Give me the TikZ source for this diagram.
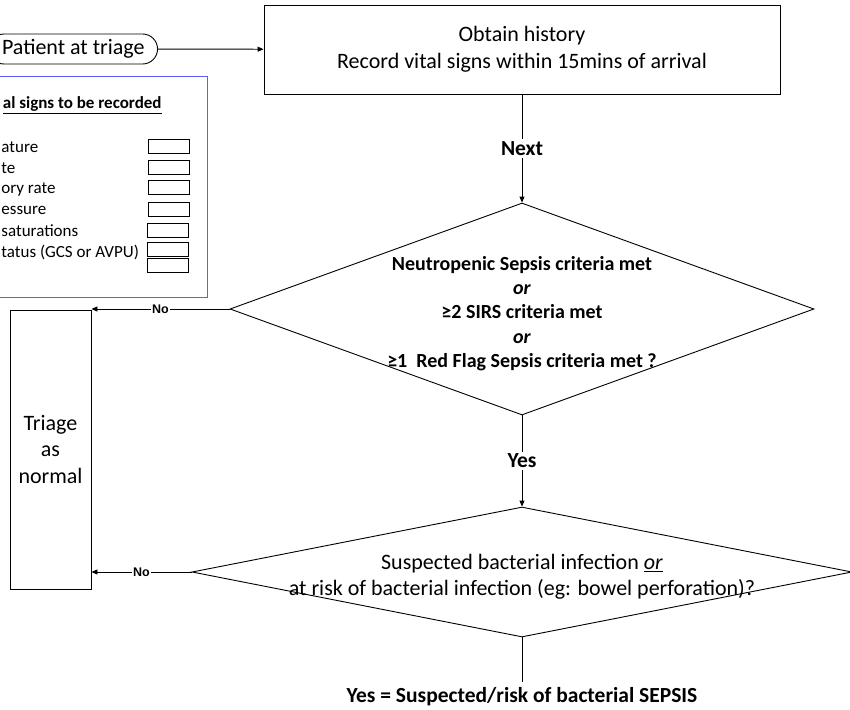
\documentclass[tikz,border=0pt]{standalone}
\usepackage{fontspec}
\setmainfont{Carlito}
\newfontfamily\arialfont{Liberation Sans}
\usetikzlibrary{arrows.meta, shapes.geometric, calc}
\definecolor{frameblue}{RGB}{95,95,245}

\begin{document}
\begin{tikzpicture}[
    x=1pt, y=-1pt,
    >={Triangle[length=6pt,width=5pt]},
    line width=0.9pt,
    process/.style  = {rectangle, draw=black, align=center, inner sep=0pt,
                       font=\fontsize{22}{26.5}\selectfont},
    decision/.style = {diamond, draw=black, inner sep=0pt},
    dtext/.style    = {align=center, inner sep=0pt},
    terminal/.style = {rectangle, rounded corners=15pt, draw=black,
                       minimum height=30pt, inner xsep=13pt, inner ysep=0pt,
                       font=\fontsize{22}{26}\selectfont},
    item/.style     = {anchor=west, inner sep=0pt,
                       font=\fontsize{17}{20}\selectfont},
    tickbox/.style  = {rectangle, draw=black, line width=0.8pt,
                       minimum width=41pt, minimum height=14pt, inner sep=0pt},
    lbl/.style      = {fill=white, inner sep=2pt,
                       font=\fontsize{21.5}{24}\selectfont\bfseries},
    nolbl/.style    = {fill=white, inner xsep=1pt, inner ysep=1pt,
                       font=\fontsize{12.5}{14}\selectfont\arialfont\bfseries},
]
\useasboundingbox (0,0) rectangle (850,709);
\clip (0,0) rectangle (850,709);

\node[terminal, anchor=east] (patient) at (158,49) {Patient at triage};

\node[process, minimum width=516pt, minimum height=89pt] (history) at (522,49.5)
    {Obtain history\\Record vital signs within 15mins of arrival};

% vital signs panel (runs off the left edge)
\node[rectangle, draw=frameblue, line width=0.9pt, minimum width=287pt,
      minimum height=221pt] (vitals) at (63.5,186.5) {};
\node[anchor=east, inner sep=0pt, font=\fontsize{17}{20}\selectfont\bfseries]
    (vtitle) at (162,105) {\underline{al signs to be recorded}};

\node[item] (temp) at (1,147) {ature};
\node[item] (hr)   at (1,168) {te};
\node[item] (rr)   at (1,189) {ory rate};
\node[item] (bp)   at (1,210) {essure};
\node[item] (sat)  at (1,231) {saturations};
\node[item] (gcs)  at (1,252) {tatus (GCS or AVPU)};

\node[tickbox] (boxA) at (168.5,146) {};
\node[tickbox] (boxB) at (168.5,167) {};
\node[tickbox] (boxC) at (168.5,187) {};
\node[tickbox] (boxD) at (168.5,209) {};
\node[tickbox] (boxE) at (167.5,230) {};
\node[tickbox] (boxF) at (167.5,249) {};
\node[tickbox] (boxG) at (167.5,265) {};

\node[decision, minimum width=584pt, minimum height=212pt] (criteria) at (522,309) {};
\node[dtext, font=\fontsize{20}{24.25}\selectfont\bfseries] (critext) at (522,313.5)
    {Neutropenic Sepsis criteria met\\ \textit{or}\\ ≥2 SIRS criteria met\\
     \textit{or}\\ ≥1\ \ Red Flag Sepsis criteria met ?};

\node[process, minimum width=81pt, minimum height=279pt] (triage) at (50.5,449.5)
    {Triage\\as\\normal};

\node[decision, minimum width=660pt, minimum height=130pt] (infect) at (522,572) {};
\node[dtext, font=\fontsize{22}{26}\selectfont] (inftext) at (522,576.5)
    {Suspected bacterial infection \underline{\textit{or}}\\
     at risk of bacterial infection (eg: bowel perforation)?};

\node[inner sep=0pt, font=\fontsize{21.5}{24}\selectfont\bfseries] (sepsis) at (522,697)
    {Yes = Suspected/risk of bacterial SEPSIS};
\coordinate (sepsistop) at (522,682);

\draw[->] (patient) -- (history);
\draw[->] (history) -- node[lbl] {Next} (criteria.north);
\draw[->] (criteria.south) -- node[lbl] {Yes} (infect.north);
\draw[->] (criteria.west) -- node[nolbl] {No} (criteria.west -| triage.east);
\draw[->] (infect.west) -- node[nolbl] {No} (infect.west -| triage.east);
\draw (infect.south) -- (sepsistop);

\end{tikzpicture}
\end{document}
